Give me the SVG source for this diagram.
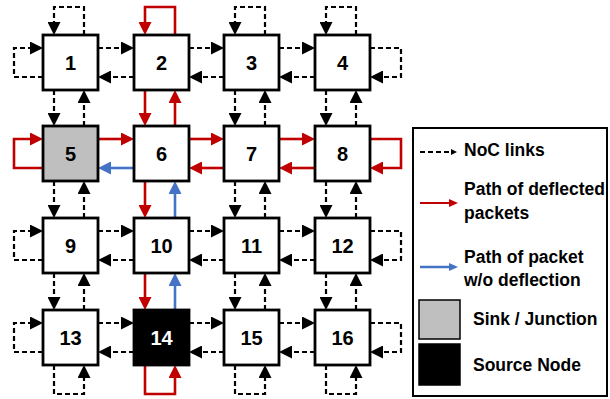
<svg xmlns="http://www.w3.org/2000/svg" width="610" height="399" viewBox="0 0 610 399">
  <style>
    .node { fill: #ffffff; stroke: #000000; stroke-width: 2.8; }
    .sink { fill: #bfbfbf; }
    .src { fill: #000000; }
    .num { font-family: "Liberation Sans", Arial, sans-serif; font-weight: bold; font-size: 20px; text-anchor: middle; fill: #000000; }
    .num.w { fill: #ffffff; }
    .link { fill: none; stroke: #000000; stroke-width: 2.2; stroke-dasharray: 5 3; marker-end: url(#ah-k); }
    .defl { fill: none; stroke: #c00000; stroke-width: 2.6; marker-end: url(#ah-r); }
    .direct { fill: none; stroke: #4472c4; stroke-width: 2.6; marker-end: url(#ah-b); }
    .lg { font-family: "Liberation Sans", Arial, sans-serif; font-weight: bold; font-size: 17.5px; fill: #000000; }
  </style>
  <defs>
    <marker id="ah-k" markerUnits="userSpaceOnUse" markerWidth="13" markerHeight="13" refX="2" refY="6.5" orient="auto">
      <path d="M0,0 L13,6.5 L0,13 z" fill="#000000"/>
    </marker>
    <marker id="ah-r" markerUnits="userSpaceOnUse" markerWidth="13" markerHeight="13" refX="2" refY="6.5" orient="auto">
      <path d="M0,0 L13,6.5 L0,13 z" fill="#c00000"/>
    </marker>
    <marker id="ah-b" markerUnits="userSpaceOnUse" markerWidth="13" markerHeight="13" refX="2" refY="6.5" orient="auto">
      <path d="M0,0 L13,6.5 L0,13 z" fill="#4472c4"/>
    </marker>
    <marker id="sk" markerUnits="userSpaceOnUse" markerWidth="6" markerHeight="6" refX="0" refY="3" orient="auto">
      <path d="M0,0 L6,3 L0,6 z" fill="#000000"/>
    </marker>
    <marker id="sr" markerUnits="userSpaceOnUse" markerWidth="9" markerHeight="8" refX="0" refY="4" orient="auto">
      <path d="M0,0 L9,4 L0,8 z" fill="#c00000"/>
    </marker>
    <marker id="sb" markerUnits="userSpaceOnUse" markerWidth="9" markerHeight="8" refX="0" refY="4" orient="auto">
      <path d="M0,0 L9,4 L0,8 z" fill="#4472c4"/>
    </marker>
  </defs>

  <!-- connectors -->
  <g id="connectors">
    <!-- plain NoC links -->
    <path class="link" d="M98,48 H123"/><path class="link" d="M134,77 H109"/>
    <path class="link" d="M189,48 H213"/><path class="link" d="M224,77 H200"/>
    <path class="link" d="M279,48 H304"/><path class="link" d="M315,77 H290"/>
    <path class="link" d="M98,231 H123"/><path class="link" d="M134,260 H109"/>
    <path class="link" d="M189,231 H213"/><path class="link" d="M224,260 H200"/>
    <path class="link" d="M279,231 H304"/><path class="link" d="M315,260 H290"/>
    <path class="link" d="M98,323 H123"/><path class="link" d="M134,352 H109"/>
    <path class="link" d="M189,323 H213"/><path class="link" d="M224,352 H200"/>
    <path class="link" d="M279,323 H304"/><path class="link" d="M315,352 H290"/>

    <path class="link" d="M54,90 V115"/><path class="link" d="M84,126 V101"/>
    <path class="link" d="M235,90 V115"/><path class="link" d="M265,126 V101"/>
    <path class="link" d="M326,90 V115"/><path class="link" d="M356,126 V101"/>
    <path class="link" d="M54,181 V207"/><path class="link" d="M84,218 V192"/>
    <path class="link" d="M235,181 V207"/><path class="link" d="M265,218 V192"/>
    <path class="link" d="M326,181 V207"/><path class="link" d="M356,218 V192"/>
    <path class="link" d="M54,273 V299"/><path class="link" d="M84,310 V284"/>
    <path class="link" d="M235,273 V299"/><path class="link" d="M265,310 V284"/>
    <path class="link" d="M326,273 V299"/><path class="link" d="M356,310 V284"/>

    <!-- edge loop-backs -->
    <path class="link" d="M84,35 V7 H54 V24"/>
    <path class="link" d="M265,35 V7 H235 V24"/>
    <path class="link" d="M356,35 V7 H326 V24"/>
    <path class="link" d="M43,77 H14 V48 H32"/>
    <path class="link" d="M43,260 H14 V231 H32"/>
    <path class="link" d="M43,352 H14 V323 H32"/>
    <path class="link" d="M370,48 H401 V77 H381"/>
    <path class="link" d="M370,231 H401 V260 H381"/>
    <path class="link" d="M370,323 H401 V352 H381"/>
    <path class="link" d="M54,365 V394 H84 V376"/>
    <path class="link" d="M235,365 V394 H265 V376"/>
    <path class="link" d="M326,365 V394 H356 V376"/>

    <!-- deflected packet path -->
    <path class="defl" d="M175,35 V7 H145 V24"/>
    <path class="defl" d="M145,90 V115"/><path class="defl" d="M175,126 V101"/>
    <path class="defl" d="M98,139 H123"/>
    <path class="defl" d="M189,139 H213"/><path class="defl" d="M224,168 H200"/>
    <path class="defl" d="M279,139 H304"/><path class="defl" d="M315,168 H290"/>
    <path class="defl" d="M43,168 H14 V139 H32"/>
    <path class="defl" d="M370,139 H401 V168 H381"/>
    <path class="defl" d="M145,181 V207"/>
    <path class="defl" d="M145,273 V299"/>
    <path class="defl" d="M145,365 V394 H175 V376"/>

    <!-- direct packet path -->
    <path class="direct" d="M134,168 H109"/>
    <path class="direct" d="M175,218 V192"/>
    <path class="direct" d="M175,310 V284"/>
  </g>

  <!-- routers -->
  <g id="n1"><rect class="node" x="43" y="35" width="55" height="55"/><text class="num" x="70.5" y="69.5">1</text></g>
  <g id="n2"><rect class="node" x="134" y="35" width="55" height="55"/><text class="num" x="161.5" y="69.5">2</text></g>
  <g id="n3"><rect class="node" x="224" y="35" width="55" height="55"/><text class="num" x="251.5" y="69.5">3</text></g>
  <g id="n4"><rect class="node" x="315" y="35" width="55" height="55"/><text class="num" x="342.5" y="69.5">4</text></g>

  <g id="n5"><rect class="node sink" x="43" y="126" width="55" height="55"/><text class="num" x="70.5" y="160.5">5</text></g>
  <g id="n6"><rect class="node" x="134" y="126" width="55" height="55"/><text class="num" x="161.5" y="160.5">6</text></g>
  <g id="n7"><rect class="node" x="224" y="126" width="55" height="55"/><text class="num" x="251.5" y="160.5">7</text></g>
  <g id="n8"><rect class="node" x="315" y="126" width="55" height="55"/><text class="num" x="342.5" y="160.5">8</text></g>

  <g id="n9"><rect class="node" x="43" y="218" width="55" height="55"/><text class="num" x="70.5" y="252.5">9</text></g>
  <g id="n10"><rect class="node" x="134" y="218" width="55" height="55"/><text class="num" x="161.5" y="252.5">10</text></g>
  <g id="n11"><rect class="node" x="224" y="218" width="55" height="55"/><text class="num" x="251.5" y="252.5">11</text></g>
  <g id="n12"><rect class="node" x="315" y="218" width="55" height="55"/><text class="num" x="342.5" y="252.5">12</text></g>

  <g id="n13"><rect class="node" x="43" y="310" width="55" height="55"/><text class="num" x="70.5" y="344.5">13</text></g>
  <g id="n14"><rect class="node src" x="134" y="310" width="55" height="55"/><text class="num w" x="161.5" y="344.5">14</text></g>
  <g id="n15"><rect class="node" x="224" y="310" width="55" height="55"/><text class="num" x="251.5" y="344.5">15</text></g>
  <g id="n16"><rect class="node" x="315" y="310" width="55" height="55"/><text class="num" x="342.5" y="344.5">16</text></g>

  <!-- legend -->
  <g id="legend">
    <rect x="413" y="128" width="194" height="268" fill="#ffffff" stroke="#000000" stroke-width="2"/>
    <path d="M420,152 H451" fill="none" stroke="#000000" stroke-width="2" stroke-dasharray="5 3" marker-end="url(#sk)"/>
    <text class="lg" x="464" y="156">NoC links</text>
    <path d="M420,203 H449" fill="none" stroke="#c00000" stroke-width="2" marker-end="url(#sr)"/>
    <text class="lg" x="464" y="195">Path of deflected</text>
    <text class="lg" x="464" y="219">packets</text>
    <path d="M420,267 H449" fill="none" stroke="#4472c4" stroke-width="2.5" marker-end="url(#sb)"/>
    <text class="lg" x="464" y="263">Path of packet</text>
    <text class="lg" x="464" y="286">w/o deflection</text>
    <rect x="419" y="300" width="41" height="39" fill="#bfbfbf" stroke="#000000" stroke-width="1.5"/>
    <text class="lg" x="473" y="325">Sink / Junction</text>
    <rect x="419" y="344" width="41" height="41" fill="#000000" stroke="#000000" stroke-width="1.5"/>
    <text class="lg" x="473" y="371">Source Node</text>
  </g>
</svg>
